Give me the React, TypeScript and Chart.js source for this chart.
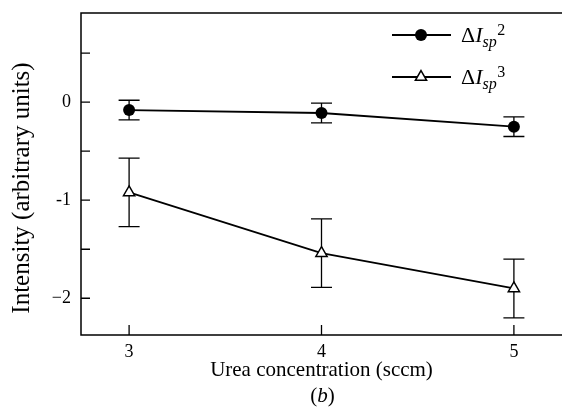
import React, { useEffect, useRef } from "react";
import { Chart, registerables } from "chart.js";

Chart.register(...registerables);

// ---- data ----
const categories = [3, 4, 5];
const series2Values = [-0.08, -0.11, -0.25];
const series2Errors = [0.1, 0.1, 0.1];
const series3Values = [-0.92, -1.54, -1.9];
const series3Errors = [0.35, 0.35, 0.3];
const xTickLabels = ["3", "4", "5"];
const yTickValues = [0, -1, -2];
const yTickLabels = ["0", "-1", "\u22122"];
const legendMain = ["\u0394", "\u0394"];
const legendItalic = ["I", "I"];
const legendSub = ["sp", "sp"];
const legendSup = ["2", "3"];
const xTitle = "Urea concentration (sccm)";
const yTitle = "Intensity (arbitrary units)";
const panelLetter = "b";

const SERIF = "'Liberation Serif', 'DejaVu Serif', serif";

const customPlugin = {
  id: "custom",
  beforeDatasetsDraw(chart: any) {
    const ctx = chart.ctx;
    const xs = chart.scales.x;
    const ys = chart.scales.y;
    const errs = [series2Errors, series3Errors];
    ctx.save();
    ctx.strokeStyle = "#000";
    ctx.lineWidth = 1.3;
    chart.data.datasets.forEach((ds: any, i: number) => {
      ds.data.forEach((p: any, j: number) => {
        const e = errs[i][j];
        const px = xs.getPixelForValue(p.x);
        const top = ys.getPixelForValue(p.y + e);
        const bot = ys.getPixelForValue(p.y - e);
        ctx.beginPath();
        ctx.moveTo(px, top);
        ctx.lineTo(px, bot);
        ctx.moveTo(px - 10.5, top);
        ctx.lineTo(px + 10.5, top);
        ctx.moveTo(px - 10.5, bot);
        ctx.lineTo(px + 10.5, bot);
        ctx.stroke();
      });
    });
    ctx.restore();
  },
  afterDraw(chart: any) {
    const ctx = chart.ctx;
    const { left, right, top, bottom } = chart.chartArea;
    const xs = chart.scales.x;
    const ys = chart.scales.y;
    ctx.save();
    ctx.strokeStyle = "#000";
    ctx.lineWidth = 1.5;
    // frame (top, left, bottom)
    ctx.beginPath();
    ctx.moveTo(right, top);
    ctx.lineTo(left, top);
    ctx.lineTo(left, bottom);
    ctx.lineTo(right, bottom);
    ctx.stroke();
    // inward ticks
    ctx.lineWidth = 1.3;
    ctx.beginPath();
    xs.ticks.forEach((t: any) => {
      const px = xs.getPixelForValue(t.value);
      ctx.moveTo(px, bottom);
      ctx.lineTo(px, bottom - 10);
    });
    ys.ticks.forEach((t: any) => {
      const py = ys.getPixelForValue(t.value);
      ctx.moveTo(left, py);
      ctx.lineTo(left + 9, py);
    });
    ctx.stroke();

    // y-axis title
    ctx.save();
    ctx.fillStyle = "#000";
    ctx.font = `25px ${SERIF}`;
    ctx.textAlign = "center";
    ctx.textBaseline = "middle";
    ctx.translate(22, 188);
    ctx.rotate(-Math.PI / 2);
    ctx.fillText(yTitle, 0, 0);
    ctx.restore();

    // legend
    const rows = [35, 77];
    chart.data.datasets.forEach((ds: any, i: number) => {
      const y = rows[i];
      ctx.strokeStyle = "#000";
      ctx.lineWidth = 1.8;
      ctx.beginPath();
      ctx.moveTo(392, y);
      ctx.lineTo(451, y);
      ctx.stroke();
      const mx = 421;
      if (i === 0) {
        ctx.fillStyle = "#000";
        ctx.beginPath();
        ctx.arc(mx, y, 6, 0, Math.PI * 2);
        ctx.fill();
      } else {
        const r = 6.5;
        ctx.fillStyle = "#fff";
        ctx.lineWidth = 1.5;
        ctx.beginPath();
        ctx.moveTo(mx, y - r);
        ctx.lineTo(mx + r * Math.cos(Math.PI / 6), y + r / 2);
        ctx.lineTo(mx - r * Math.cos(Math.PI / 6), y + r / 2);
        ctx.closePath();
        ctx.fill();
        ctx.stroke();
      }
      ctx.fillStyle = "#000";
      ctx.textBaseline = "alphabetic";
      ctx.textAlign = "left";
      let x = 461;
      const base = y + 7;
      ctx.font = `22px ${SERIF}`;
      ctx.fillText(legendMain[i], x, base);
      x += ctx.measureText(legendMain[i]).width;
      ctx.font = `italic 22px ${SERIF}`;
      ctx.fillText(legendItalic[i], x, base);
      x += ctx.measureText(legendItalic[i]).width;
      ctx.font = `italic 16px ${SERIF}`;
      ctx.fillText(legendSub[i], x, base + 5);
      x += ctx.measureText(legendSub[i]).width + 0.5;
      ctx.font = `16px ${SERIF}`;
      ctx.fillText(legendSup[i], x, base - 7);
    });

    // panel letter "(b)"
    const cx = (left + right) / 2 + 1;
    const cy = 402;
    ctx.font = `21px ${SERIF}`;
    const wp = ctx.measureText("(").width;
    const wq = ctx.measureText(")").width;
    ctx.font = `italic 21px ${SERIF}`;
    const wb = ctx.measureText(panelLetter).width;
    let x0 = cx - (wp + wb + wq) / 2;
    ctx.font = `21px ${SERIF}`;
    ctx.fillText("(", x0, cy);
    x0 += wp;
    ctx.font = `italic 21px ${SERIF}`;
    ctx.fillText(panelLetter, x0, cy);
    x0 += wb;
    ctx.font = `21px ${SERIF}`;
    ctx.fillText(")", x0, cy);
    ctx.restore();
  },
};

function zeroPad(s: any) {
  s.paddingTop = 0;
  s.paddingBottom = 0;
  s.paddingLeft = 0;
  s.paddingRight = 0;
}

export default function App() {
  const ref = useRef<HTMLCanvasElement | null>(null);
  useEffect(() => {
    if (!ref.current) return;
    const chart = new Chart(ref.current, {
      type: "line",
      data: {
        datasets: [
          {
            label: "ΔIsp2",
            data: categories.map((c, i) => ({ x: c, y: series2Values[i] })),
            borderColor: "#000",
            borderWidth: 1.8,
            pointStyle: "circle",
            pointRadius: 6,
            pointBackgroundColor: "#000",
            pointBorderColor: "#000",
            pointBorderWidth: 0,
            tension: 0,
          },
          {
            label: "ΔIsp3",
            data: categories.map((c, i) => ({ x: c, y: series3Values[i] })),
            borderColor: "#000",
            borderWidth: 1.8,
            pointStyle: "triangle",
            pointRadius: 6.5,
            pointBackgroundColor: "#fff",
            pointBorderColor: "#000",
            pointBorderWidth: 1.5,
            tension: 0,
          },
        ],
      },
      options: {
        responsive: false,
        animation: false,
        layout: { autoPadding: false, padding: { top: 13, right: 0, left: 0, bottom: 0 } },
        plugins: {
          legend: { display: false },
          tooltip: { enabled: false },
        },
        scales: {
          x: {
            type: "linear",
            min: 2.75,
            max: 5.25,
            grid: { display: false, drawTicks: false },
            border: { display: false },
            ticks: {
              stepSize: 1,
              includeBounds: false,
              padding: 6,
              color: "#000",
              font: { family: SERIF, size: 18 },
              callback: (v: any) => {
                const idx = categories.indexOf(Number(v));
                return idx >= 0 ? xTickLabels[idx] : "";
              },
            },
            title: {
              display: true,
              text: xTitle,
              color: "#000",
              font: { family: SERIF, size: 21 },
              padding: { top: 0, bottom: 29 },
            },
            afterFit: (s: any) => {
              s.height = 77;
              zeroPad(s);
            },
          },
          y: {
            type: "linear",
            min: -2.375,
            max: 0.91,
            grid: { display: false, drawTicks: false },
            border: { display: false },
            ticks: {
              stepSize: 0.5,
              includeBounds: false,
              padding: 10,
              color: "#000",
              font: { family: SERIF, size: 18 },
              callback: (v: any) => {
                const idx = yTickValues.findIndex((t) => Math.abs(t - Number(v)) < 1e-6);
                return idx >= 0 ? yTickLabels[idx] : "";
              },
            },
            title: { display: false },
            afterFit: (s: any) => {
              s.width = 81;
              zeroPad(s);
            },
          },
        },
      },
      plugins: [customPlugin],
    });
    return () => chart.destroy();
  }, []);
  return (
    <div style={{ position: "absolute", left: 0, top: 0, width: 562, height: 412, background: "#fff" }}>
      <canvas ref={ref} width={562} height={412} style={{ display: "block" }} />
    </div>
  );
}
